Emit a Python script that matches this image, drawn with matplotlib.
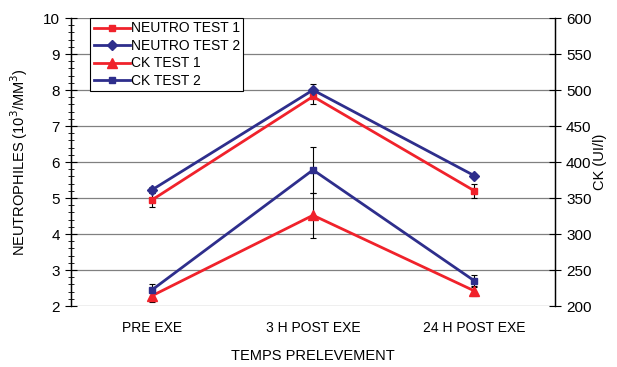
import matplotlib.pyplot as plt
from matplotlib.lines import Line2D
from matplotlib.ticker import MultipleLocator

plt.rcParams['font.family'] = ['Liberation Sans', 'DejaVu Sans']

categories = ["PRE EXE", "3 H POST EXE", "24 H POST EXE"]

neutro_1 = [4.94, 7.82, 5.2]
neutro_1_err = [0.2, 0.2, 0.2]
neutro_2 = [5.22, 8.0, 5.62]
neutro_2_err = [0.08, 0.18, 0.05]

ck_1 = [214, 326, 221]
ck_1_err = [8, 31, 7]
ck_2 = [222, 389, 235]
ck_2_err = [9, 32, 8]

red = '#f0222b'
navy = '#2e2e8c'

fig = plt.figure(figsize=(6.17, 3.67), dpi=100)
ax = fig.add_axes([71 / 617, 1 - 306 / 367, 484 / 617, 288 / 367])
ax2 = ax.twinx()

x = list(range(len(categories)))

series = [
    (ax, neutro_1, neutro_1_err, red, 's', 5, 'NEUTRO TEST 1'),
    (ax, neutro_2, neutro_2_err, navy, 'D', 5, 'NEUTRO TEST 2'),
    (ax2, ck_1, ck_1_err, red, '^', 6.5, 'CK TEST 1'),
    (ax2, ck_2, ck_2_err, navy, 's', 4.5, 'CK TEST 2'),
]

handles = []
for a, vals, err, col, mk, ms, lab in series:
    a.errorbar(x, vals, yerr=err, color=col, marker=mk, ms=ms, lw=2,
               ecolor='black', elinewidth=0.8, capsize=2.5, capthick=0.8)
    handles.append(Line2D([], [], color=col, marker=mk, ms=ms, lw=2, label=lab))

ax.set_xlim(-0.5, 2.5)
ax.set_ylim(2, 10)
ax2.set_ylim(200, 600)

ax.set_xticks(x)
ax.set_xticklabels(categories, fontsize=10)
ax.tick_params(axis='x', length=0, pad=11)

ax.yaxis.set_major_locator(MultipleLocator(1))
ax.yaxis.set_minor_locator(MultipleLocator(0.2))
ax.tick_params(axis='y', which='major', direction='inout', length=8, width=0.8, labelsize=11, pad=4)
ax.tick_params(axis='y', which='minor', direction='inout', length=4, width=0.6)
ax.grid(axis='y', which='major', color='#808080', lw=0.9)

ax2.yaxis.set_major_locator(MultipleLocator(50))
ax2.tick_params(axis='y', direction='inout', length=8, width=0.8, labelsize=11, pad=4)

for a in (ax, ax2):
    a.spines['top'].set_visible(False)
    a.spines['bottom'].set_visible(False)
    a.spines['left'].set_color('black')
    a.spines['right'].set_color('black')
    a.spines['left'].set_linewidth(0.9)
    a.spines['right'].set_linewidth(0.9)

ax.set_ylabel('NEUTROPHILES (10$^{3}$/MM$^{3}$)', fontsize=10.5, labelpad=9)
ax2.set_ylabel('CK (UI/l)', fontsize=10.5, labelpad=1)
ax.set_xlabel('TEMPS PRELEVEMENT', fontsize=10.5, labelpad=10)

leg = ax2.legend(handles=handles, loc='upper left', bbox_to_anchor=(0.04, 1.0),
                 fontsize=10, frameon=True, fancybox=False, edgecolor='black',
                 framealpha=1, borderpad=0.25, labelspacing=0.25, handlelength=2.6,
                 handletextpad=0.05, borderaxespad=0)
leg.get_frame().set_linewidth(0.8)

fig.savefig('out.png', dpi=100)
